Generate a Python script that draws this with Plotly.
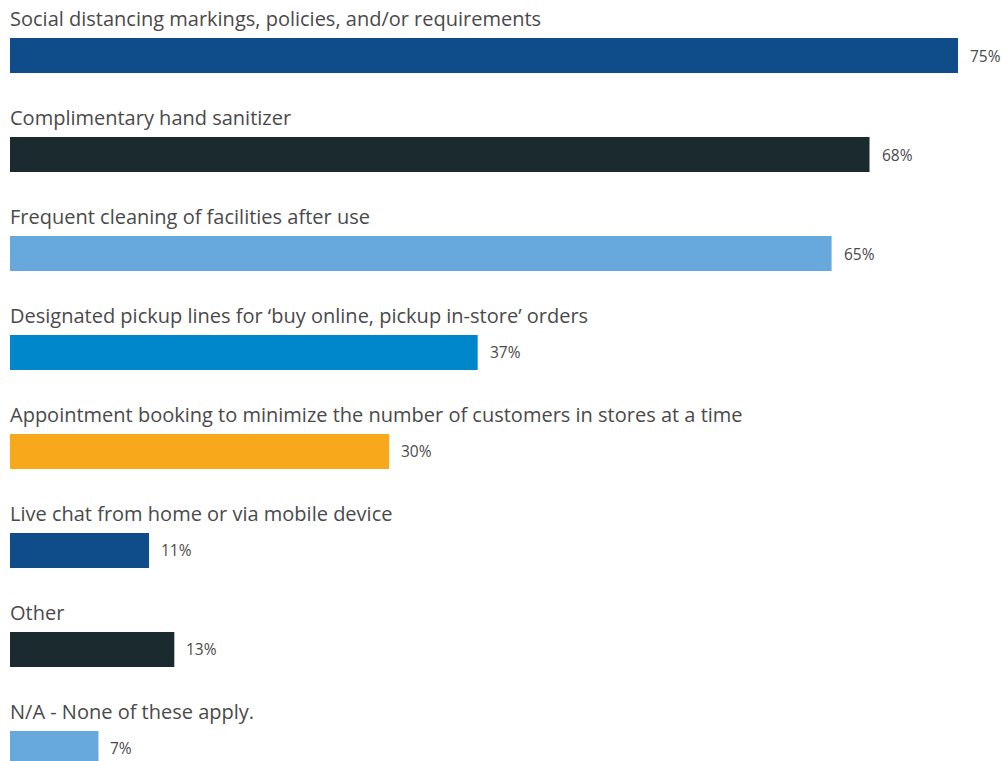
import plotly.graph_objects as go

categories = [
    "Social distancing markings, policies, and/or requirements",
    "Complimentary hand sanitizer",
    "Frequent cleaning of facilities after use",
    "Designated pickup lines for \u2018buy online, pickup in-store\u2019 orders",
    "Appointment booking to minimize the number of customers in stores at a time",
    "Live chat from home or via mobile device",
    "Other",
    "N/A - None of these apply.",
]
values = [75, 68, 65, 37, 30, 11, 13, 7]
colors = ["#0e4c8a", "#1b2a2f", "#67a9dd", "#0086ca",
          "#f7a81b", "#0e4c8a", "#1b2a2f", "#67a9dd"]

positions = list(range(len(categories)))

fig = go.Figure(go.Bar(
    x=values,
    y=positions,
    orientation="h",
    marker=dict(color=colors, line=dict(width=0)),
    width=0.354,
    hoverinfo="skip",
))

text_color = "#4a4a4a"
font_family = "'Open Sans', sans-serif"

annotations = []
for i, (cat, val) in enumerate(zip(categories, values)):
    annotations.append(dict(
        x=0, y=i - 0.37, xref="x", yref="y",
        text=cat, showarrow=False, xanchor="left", yanchor="middle",
        xshift=-2,
        font=dict(family=font_family, size=20, color=text_color),
    ))
    annotations.append(dict(
        x=val, y=i, xref="x", yref="y",
        text=f"{val}%", showarrow=False, xanchor="left", yanchor="middle",
        xshift=10,
        font=dict(family=font_family, size=15.5, color=text_color),
    ))

fig.update_layout(
    width=1002, height=761,
    margin=dict(l=10, r=0, t=0, b=0),
    paper_bgcolor="white", plot_bgcolor="white",
    showlegend=False,
    annotations=annotations,
    xaxis=dict(range=[0, 992 / 12.64], visible=False, fixedrange=True),
    yaxis=dict(range=[-0.5606 + 7.687, -0.5606], visible=False, fixedrange=True),
)

fig.write_html("out.html")
